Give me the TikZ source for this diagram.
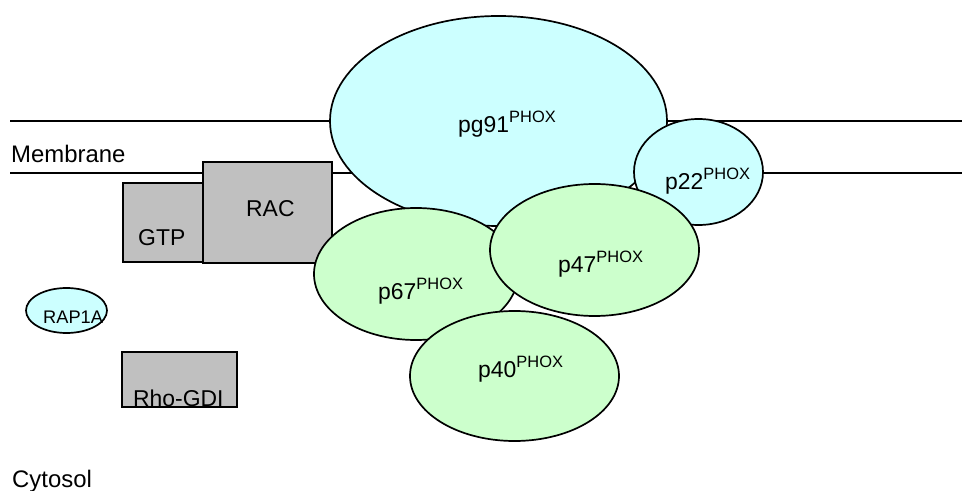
\documentclass[tikz,border=0pt]{standalone}
\usepackage{fontspec}
\setmainfont{Liberation Sans}
\usetikzlibrary{shapes.geometric}
\definecolor{cyanfill}{HTML}{CCFFFF}
\definecolor{greenfill}{HTML}{CCFFCC}
\definecolor{boxgray}{HTML}{C0C0C0}
\newcommand\phox{\raisebox{10bp}{\fontsize{16.5}{18}\selectfont PHOX}}
\begin{document}
\begin{tikzpicture}[x=1bp,y=-1bp,
  blob/.style={ellipse, draw, line width=1.7bp, inner sep=0pt},
  cyanblob/.style={blob, fill=cyanfill},
  greenblob/.style={blob, fill=greenfill},
  graybox/.style={rectangle, draw, line width=1.7bp, fill=boxgray, inner sep=0pt, anchor=north west},
  lbl/.style={anchor=base west, inner sep=0pt, font=\fontsize{23}{26}\selectfont},
  biglbl/.style={lbl, font=\fontsize{24}{27}\selectfont},
  memline/.style={line width=1.7bp}]
\useasboundingbox (0,0) rectangle (962,491);
% membrane
\coordinate (t1) at (10,121); \coordinate (t2) at (962,121);
\coordinate (b1) at (10,173); \coordinate (b2) at (962,173);
\draw[memline] (t1) -- (t2);
\draw[memline] (b1) -- (b2);
\node[biglbl] (mem) at (11,163) {Membrane};
% pg91
\node[cyanblob, minimum width=337bp, minimum height=210bp] (pg91) at (498.5,121) {};
\node[lbl] (pg91t) at (458,133) {pg91\phox};
% p22
\node[cyanblob, minimum width=129bp, minimum height=106bp] (p22) at (698.5,172) {};
\node[lbl] (p22t) at (665,190) {p22\phox};
% GTP / RAC
\node[graybox, minimum width=81bp, minimum height=79bp] (gtp) at (122,182) {};
\node[lbl] (gtpt) at (138,246) {GTP};
\node[graybox, minimum width=129bp, minimum height=101bp] (rac) at (202,161) {};
\node[lbl] (ract) at (246,217) {RAC};
% p67
\node[greenblob, minimum width=204bp, minimum height=132bp] (p67) at (416,274) {};
\node[lbl] (p67t) at (378,300) {p67\phox};
% p47
\node[greenblob, minimum width=209bp, minimum height=132bp] (p47) at (594.5,250) {};
\node[lbl] (p47t) at (558,273) {p47\phox};
% p40
\node[greenblob, minimum width=209bp, minimum height=130bp] (p40) at (514.5,376) {};
\node[lbl] (p40t) at (478,378) {p40\phox};
% RAP1A
\node[cyanblob, minimum width=81bp, minimum height=45bp] (rap) at (66.5,310.5) {};
\node[lbl, font=\fontsize{18.3}{20}\selectfont] (rapt) at (43,324) {RAP1A};
% Rho-GDI (text cut by the box bottom)
\node[graybox, draw=none, minimum width=113bp, minimum height=53bp] (rho) at (122,352) {};
\begin{scope}
  \clip (rho.north west) rectangle (rho.south east);
  \node[lbl] (rhot) at (133,406) {Rho-GDI};
\end{scope}
\draw[line width=1.7bp] (rho.north west) rectangle (rho.south east);
% Cytosol
\node[biglbl] (cyt) at (12,487) {Cytosol};
\end{tikzpicture}
\end{document}
